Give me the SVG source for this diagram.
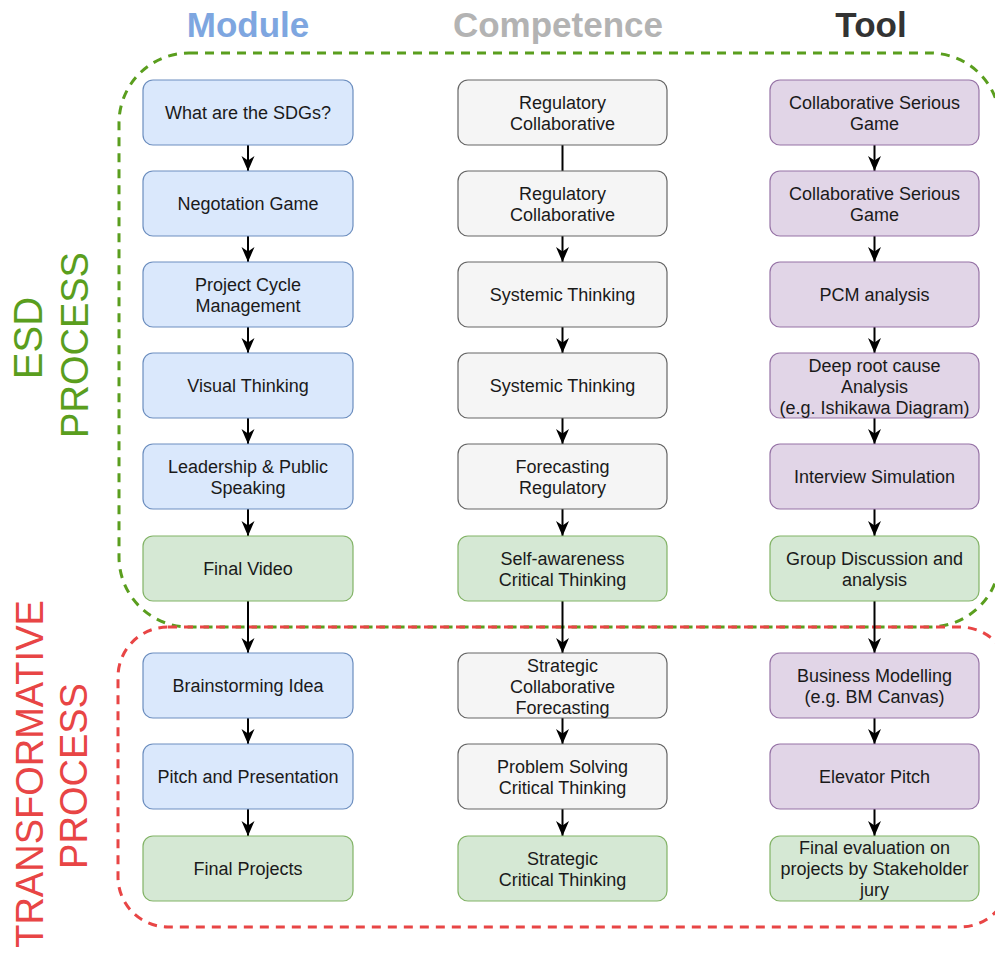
<svg xmlns="http://www.w3.org/2000/svg" width="995" height="956" viewBox="0 0 995 956">
<style>
text{font-family:"Liberation Sans",Arial,sans-serif}
.n{font-size:18px;fill:#1a1a1a;text-anchor:middle}
.h{font-size:35px;font-weight:bold;text-anchor:middle}
.side{font-size:38px;text-anchor:middle}
.blue{fill:#dae8fc;stroke:#6c8ebf;stroke-width:1.2}
.gray{fill:#f5f5f5;stroke:#666;stroke-width:1.2}
.purple{fill:#e1d5e7;stroke:#9673a6;stroke-width:1.2}
.green{fill:#d5e8d4;stroke:#82b366;stroke-width:1.2}
.c{stroke:#000;stroke-width:2;fill:none}
.a{marker-end:url(#arr)}
</style>
<defs>
<marker id="arr" markerUnits="userSpaceOnUse" markerWidth="16" markerHeight="16" viewBox="0 0 16 16" refX="15" refY="8" orient="auto">
<path d="M0,1.5 L15,8 L0,14.5 L4.5,8 z" fill="#000"/>
</marker>
</defs>
<rect width="995" height="956" fill="#fff"/>
<!-- headers -->
<text class="h" x="248" y="37" fill="#7EA6E0">Module</text>
<text class="h" x="558" y="37" fill="#B3B3B3">Competence</text>
<text class="h" x="871" y="37" fill="#333">Tool</text>
<!-- process regions -->
<g id="esd">
<rect x="119" y="53" width="881" height="574" rx="70" ry="70" fill="none" stroke="#5A9E1E" stroke-width="3" stroke-dasharray="9,7"/>
<text class="side" fill="#5A9E1E" transform="translate(42,338) rotate(-90)" style="font-size:40px">ESD</text>
<text class="side" fill="#5A9E1E" transform="translate(88,345) rotate(-90)">PROCESS</text>
</g>
<g id="transformative">
<rect x="118" y="627" width="892" height="300" rx="50" ry="50" fill="none" stroke="#E84545" stroke-width="3" stroke-dasharray="9,7"/>
<text class="side" fill="#E84545" transform="translate(43,774) rotate(-90)">TRANSFORMATIVE</text>
<text class="side" fill="#E84545" transform="translate(87,776) rotate(-90)">PROCESS</text>
</g>
<!-- connectors -->
<g id="connectors">
<line class="c a" x1="248" y1="145" x2="248" y2="171"/>
<line class="c a" x1="248" y1="236" x2="248" y2="262"/>
<line class="c a" x1="248" y1="327" x2="248" y2="353"/>
<line class="c a" x1="248" y1="418" x2="248" y2="444"/>
<line class="c a" x1="248" y1="509" x2="248" y2="536"/>
<line class="c a" x1="248" y1="601" x2="248" y2="653"/>
<line class="c a" x1="248" y1="718" x2="248" y2="744"/>
<line class="c a" x1="248" y1="809" x2="248" y2="836"/>
<line class="c" x1="562.5" y1="145" x2="562.5" y2="171"/>
<line class="c a" x1="562.5" y1="236" x2="562.5" y2="262"/>
<line class="c a" x1="562.5" y1="327" x2="562.5" y2="353"/>
<line class="c a" x1="562.5" y1="418" x2="562.5" y2="444"/>
<line class="c a" x1="562.5" y1="509" x2="562.5" y2="536"/>
<line class="c a" x1="562.5" y1="601" x2="562.5" y2="653"/>
<line class="c a" x1="562.5" y1="718" x2="562.5" y2="744"/>
<line class="c a" x1="562.5" y1="809" x2="562.5" y2="836"/>
<line class="c a" x1="874.5" y1="145" x2="874.5" y2="171"/>
<line class="c a" x1="874.5" y1="236" x2="874.5" y2="262"/>
<line class="c a" x1="874.5" y1="327" x2="874.5" y2="353"/>
<line class="c a" x1="874.5" y1="418" x2="874.5" y2="444"/>
<line class="c a" x1="874.5" y1="509" x2="874.5" y2="536"/>
<line class="c a" x1="874.5" y1="601" x2="874.5" y2="653"/>
<line class="c a" x1="874.5" y1="718" x2="874.5" y2="744"/>
<line class="c a" x1="874.5" y1="809" x2="874.5" y2="836"/>
</g>
<!-- Module column -->
<g id="m1"><rect class="blue" x="143" y="80" width="210" height="65" rx="10"/><text class="n" x="248" y="119">What are the SDGs?</text></g>
<g id="m2"><rect class="blue" x="143" y="171" width="210" height="65" rx="10"/><text class="n" x="248" y="210">Negotation Game</text></g>
<g id="m3"><rect class="blue" x="143" y="262" width="210" height="65" rx="10"/><text class="n" x="248" y="291">Project Cycle</text><text class="n" x="248" y="312">Management</text></g>
<g id="m4"><rect class="blue" x="143" y="353" width="210" height="65" rx="10"/><text class="n" x="248" y="392">Visual Thinking</text></g>
<g id="m5"><rect class="blue" x="143" y="444" width="210" height="65" rx="10"/><text class="n" x="248" y="473">Leadership &amp; Public</text><text class="n" x="248" y="494">Speaking</text></g>
<g id="m6"><rect class="green" x="143" y="536" width="210" height="65" rx="10"/><text class="n" x="248" y="575">Final Video</text></g>
<g id="m7"><rect class="blue" x="143" y="653" width="210" height="65" rx="10"/><text class="n" x="248" y="692">Brainstorming Idea</text></g>
<g id="m8"><rect class="blue" x="143" y="744" width="210" height="65" rx="10"/><text class="n" x="248" y="783">Pitch and Presentation</text></g>
<g id="m9"><rect class="green" x="143" y="836" width="210" height="65" rx="10"/><text class="n" x="248" y="875">Final Projects</text></g>
<!-- Competence column -->
<g id="c1"><rect class="gray" x="458" y="80" width="209" height="65" rx="10"/><text class="n" x="562.5" y="109">Regulatory</text><text class="n" x="562.5" y="130">Collaborative</text></g>
<g id="c2"><rect class="gray" x="458" y="171" width="209" height="65" rx="10"/><text class="n" x="562.5" y="200">Regulatory</text><text class="n" x="562.5" y="221">Collaborative</text></g>
<g id="c3"><rect class="gray" x="458" y="262" width="209" height="65" rx="10"/><text class="n" x="562.5" y="301">Systemic Thinking</text></g>
<g id="c4"><rect class="gray" x="458" y="353" width="209" height="65" rx="10"/><text class="n" x="562.5" y="392">Systemic Thinking</text></g>
<g id="c5"><rect class="gray" x="458" y="444" width="209" height="65" rx="10"/><text class="n" x="562.5" y="473">Forecasting</text><text class="n" x="562.5" y="494">Regulatory</text></g>
<g id="c6"><rect class="green" x="458" y="536" width="209" height="65" rx="10"/><text class="n" x="562.5" y="565">Self-awareness</text><text class="n" x="562.5" y="586">Critical Thinking</text></g>
<g id="c7"><rect class="gray" x="458" y="653" width="209" height="65" rx="10"/><text class="n" x="562.5" y="672">Strategic</text><text class="n" x="562.5" y="693">Collaborative</text><text class="n" x="562.5" y="714">Forecasting</text></g>
<g id="c8"><rect class="gray" x="458" y="744" width="209" height="65" rx="10"/><text class="n" x="562.5" y="773">Problem Solving</text><text class="n" x="562.5" y="794">Critical Thinking</text></g>
<g id="c9"><rect class="green" x="458" y="836" width="209" height="65" rx="10"/><text class="n" x="562.5" y="865">Strategic</text><text class="n" x="562.5" y="886">Critical Thinking</text></g>
<!-- Tool column -->
<g id="t1"><rect class="purple" x="770" y="80" width="209" height="65" rx="10"/><text class="n" x="874.5" y="109">Collaborative Serious</text><text class="n" x="874.5" y="130">Game</text></g>
<g id="t2"><rect class="purple" x="770" y="171" width="209" height="65" rx="10"/><text class="n" x="874.5" y="200">Collaborative Serious</text><text class="n" x="874.5" y="221">Game</text></g>
<g id="t3"><rect class="purple" x="770" y="262" width="209" height="65" rx="10"/><text class="n" x="874.5" y="301">PCM analysis</text></g>
<g id="t4"><rect class="purple" x="770" y="353" width="209" height="65" rx="10"/><text class="n" x="874.5" y="372">Deep root cause</text><text class="n" x="874.5" y="393">Analysis</text><text class="n" x="874.5" y="414">(e.g. Ishikawa Diagram)</text></g>
<g id="t5"><rect class="purple" x="770" y="444" width="209" height="65" rx="10"/><text class="n" x="874.5" y="483">Interview Simulation</text></g>
<g id="t6"><rect class="green" x="770" y="536" width="209" height="65" rx="10"/><text class="n" x="874.5" y="565">Group Discussion and</text><text class="n" x="874.5" y="586">analysis</text></g>
<g id="t7"><rect class="purple" x="770" y="653" width="209" height="65" rx="10"/><text class="n" x="874.5" y="682">Business Modelling</text><text class="n" x="874.5" y="703">(e.g. BM Canvas)</text></g>
<g id="t8"><rect class="purple" x="770" y="744" width="209" height="65" rx="10"/><text class="n" x="874.5" y="783">Elevator Pitch</text></g>
<g id="t9"><rect class="green" x="770" y="836" width="209" height="65" rx="10"/><text class="n" x="874.5" y="854">Final evaluation on</text><text class="n" x="874.5" y="875">projects by Stakeholder</text><text class="n" x="874.5" y="896">jury</text></g>
</svg>
